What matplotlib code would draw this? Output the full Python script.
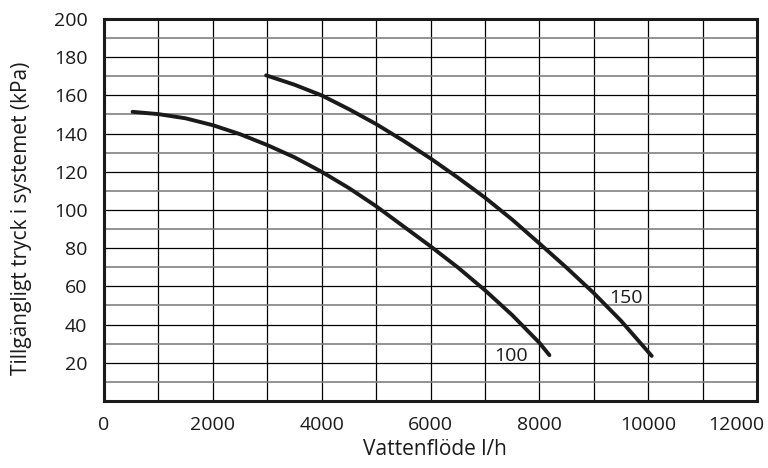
import matplotlib.pyplot as plt
import matplotlib.transforms as mtransforms
from matplotlib.ticker import MultipleLocator

plt.rcParams["font.family"] = ["Open Sans", "DejaVu Sans"]

flow_100 = [525, 1000, 1500, 2000, 2500, 3000, 3500, 4000, 4500, 5000,
            5500, 6000, 6500, 7000, 7500, 8000, 8185]
press_100 = [151.4, 150.2, 148, 144.4, 139.7, 134, 127.6, 120, 111.5, 102,
             91.5, 81, 70, 58, 45, 30.5, 24]

flow_150 = [2980, 3500, 4000, 4500, 5000, 5500, 6000, 6500, 7000, 7500,
            8000, 8500, 9000, 9500, 10065]
press_150 = [170.5, 165.6, 160, 152.8, 145, 136.3, 127, 117, 106.5, 95,
             82.5, 69.8, 56.5, 42, 23.6]

curve_labels = ["100", "150"]
label_pos = [(7480, 23.6), (9595, 54)]

x_ticks = list(range(0, 12001, 2000))
y_ticks = list(range(20, 201, 20))

fig = plt.figure(figsize=(7.68, 4.68), dpi=100)
ax = fig.add_axes([0.1354, 0.1432, 0.8503, 0.8162])

ax.set_xlim(0, 12000)
ax.set_ylim(0, 200)
ax.set_xticks(x_ticks)
ax.set_yticks(y_ticks)
ax.xaxis.set_minor_locator(MultipleLocator(1000))
ax.yaxis.set_minor_locator(MultipleLocator(10))

ax.grid(True, which="major", color="black", linewidth=0.9)
ax.grid(True, which="minor", axis="x", color="black", linewidth=0.9)
ax.grid(True, which="minor", axis="y", color="#808080", linewidth=1.2)
ax.set_axisbelow(True)

ax.tick_params(which="both", length=0, labelsize=14, labelcolor="#1a1a1a")
ax.tick_params(axis="x", pad=11)
ax.tick_params(axis="y", pad=12)

# last x label sits inside the figure, left of its gridline
fig.canvas.draw()
last = ax.get_xticklabels()[-1]
last.set_transform(last.get_transform() +
                   mtransforms.ScaledTranslation(-0.21, 0, fig.dpi_scale_trans))

for s in ax.spines.values():
    s.set_linewidth(2.2)
    s.set_color("#1a1a1a")

ax.plot(flow_100, press_100, color="#1a1a1a", linewidth=2.8,
        solid_capstyle="round", solid_joinstyle="round")
ax.plot(flow_150, press_150, color="#1a1a1a", linewidth=2.8,
        solid_capstyle="round", solid_joinstyle="round")

for lab, (x, y) in zip(curve_labels, label_pos):
    ax.text(x, y, lab, fontsize=14, ha="center", va="center", color="#1a1a1a")

ax.set_xlabel("Vattenflöde l/h", fontsize=15, color="#1a1a1a")
ax.set_ylabel("Tillgängligt tryck i systemet (kPa)", fontsize=15, color="#1a1a1a")
ax.xaxis.set_label_coords(0.507, -0.10)
ax.yaxis.set_label_coords(-0.110, 0.479)

fig.savefig("out.png", dpi=100)
plt.close(fig)
